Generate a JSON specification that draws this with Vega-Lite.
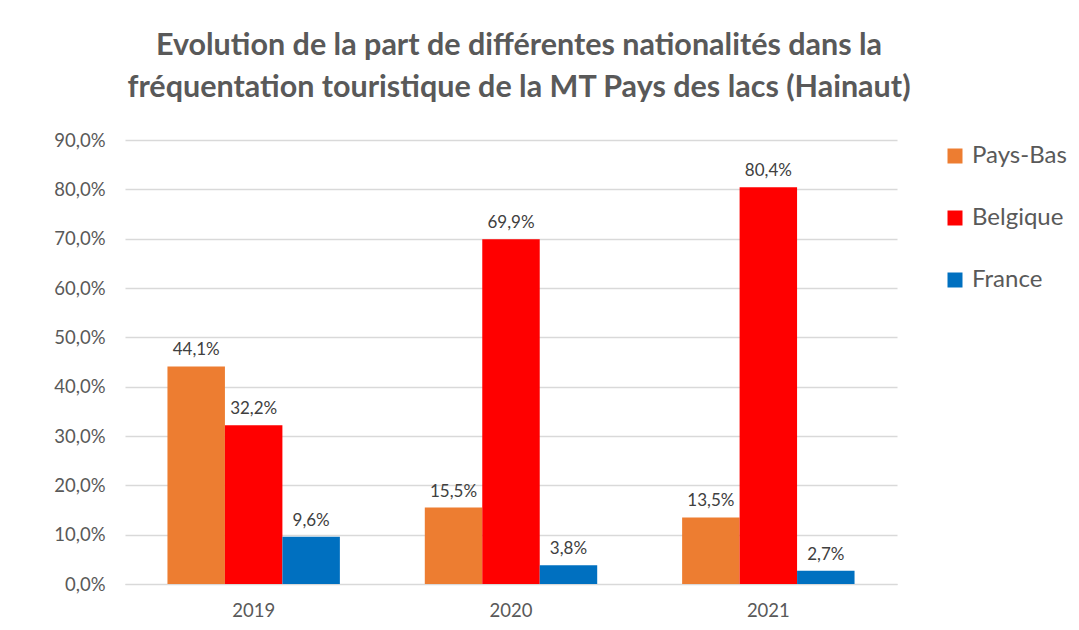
{
  "$schema": "https://vega.github.io/schema/vega-lite/v6.json",
  "width": 772,
  "height": 444,
  "autosize": {"type": "none"},
  "padding": {"left": 125, "top": 140, "right": 182, "bottom": 46},
  "background": "white",
  "title": {
    "text": ["Evolution de la part de différentes nationalités dans la", "fréquentation touristique de la MT Pays des lacs (Hainaut)"],
    "font": "Lato",
    "fontSize": 30.5,
    "fontWeight": "bold",
    "color": "#595959",
    "lineHeight": 42,
    "anchor": "middle",
    "frame": "group",
    "dx": 8,
    "offset": 28
  },
  "data": {
    "values": [
      {"annee": "2019", "pays": "Pays-Bas", "part": 0.441},
      {"annee": "2019", "pays": "Belgique", "part": 0.322},
      {"annee": "2019", "pays": "France", "part": 0.096},
      {"annee": "2020", "pays": "Pays-Bas", "part": 0.155},
      {"annee": "2020", "pays": "Belgique", "part": 0.699},
      {"annee": "2020", "pays": "France", "part": 0.038},
      {"annee": "2021", "pays": "Pays-Bas", "part": 0.135},
      {"annee": "2021", "pays": "Belgique", "part": 0.804},
      {"annee": "2021", "pays": "France", "part": 0.027}
    ]
  },
  "encoding": {
    "x": {
      "field": "annee",
      "type": "nominal",
      "title": null,
      "scale": {"paddingInner": 0.33, "paddingOuter": 0.165},
      "axis": {"labelAngle": 0, "domain": true, "domainColor": "#D9D9D9", "ticks": false, "labelPadding": 17, "labelFontSize": 18.5, "labelFont": "Lato", "labelColor": "#595959", "grid": false}
    },
    "xOffset": {"field": "pays", "type": "nominal", "scale": {"domain": ["Pays-Bas", "Belgique", "France"]}},
    "y": {
      "field": "part",
      "type": "quantitative",
      "title": null,
      "scale": {"domain": [0, 0.9]},
      "axis": {"values": [0, 0.1, 0.2, 0.3, 0.4, 0.5, 0.6, 0.7, 0.8, 0.9], "format": ".1%", "domain": false, "ticks": false, "labelPadding": 20, "labelFontSize": 18.5, "labelFont": "Lato", "labelColor": "#595959", "gridColor": "#D9D9D9", "gridWidth": 1.3}
    }
  },
  "layer": [
    {
      "mark": {"type": "bar"},
      "encoding": {
        "color": {
          "field": "pays",
          "type": "nominal",
          "scale": {"domain": ["Pays-Bas", "Belgique", "France"], "range": ["#ED7D31", "#FF0000", "#0070C0"]},
          "legend": {"title": null, "orient": "right", "offset": 42, "symbolType": "square", "symbolSize": 225, "symbolStrokeWidth": 0, "labelFontSize": 24, "labelFont": "Lato", "labelColor": "#595959", "rowPadding": 38, "labelOffset": 5, "padding": 4}
        }
      }
    },
    {
      "mark": {"type": "text", "baseline": "bottom", "dy": -7, "fontSize": 17, "font": "Lato", "color": "#404040"},
      "encoding": {
        "text": {"field": "part", "type": "quantitative", "format": ".1%"}
      }
    }
  ],
  "config": {
    "locale": {"number": {"decimal": ",", "thousands": ".", "grouping": [3], "currency": ["", " €"]}},
    "view": {"stroke": null}
  }
}
